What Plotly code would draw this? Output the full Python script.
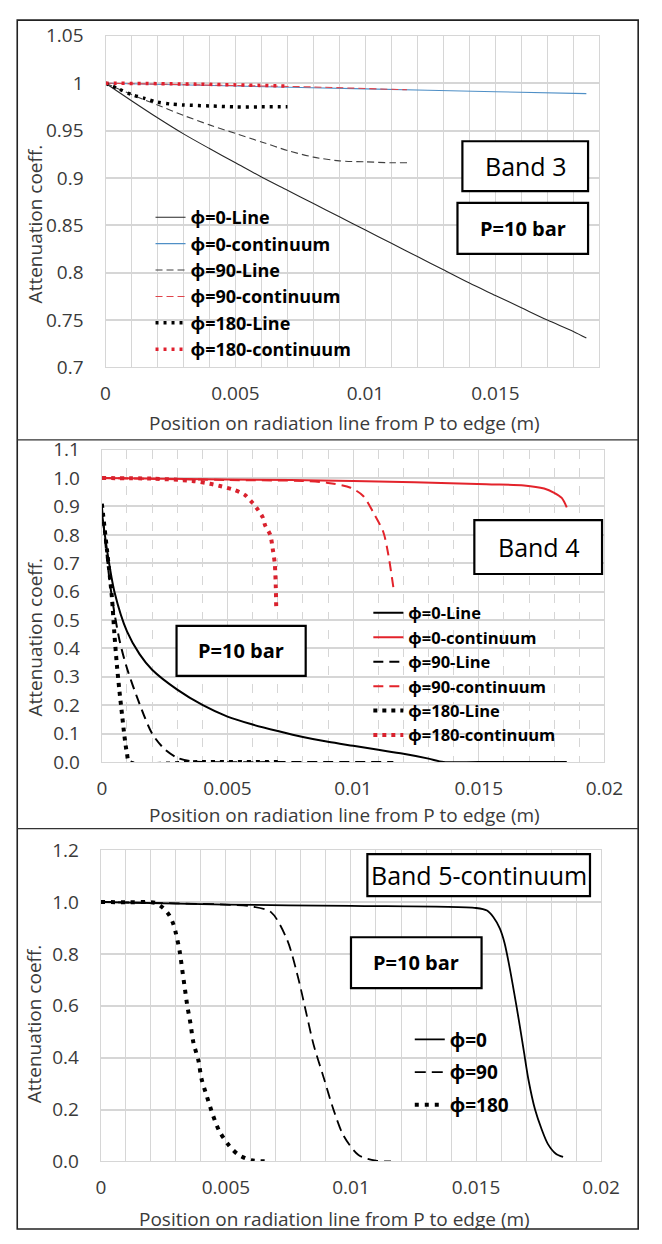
import plotly.graph_objects as go

W, H = 662, 1244

# ---------------- Band 3 (top panel) ----------------
b3_phi0_line_x = [0, 0.001, 0.002, 0.003, 0.004, 0.005, 0.006, 0.007, 0.008, 0.009, 0.010,
                  0.011, 0.012, 0.013, 0.014, 0.015, 0.016, 0.017, 0.018, 0.0185]
b3_phi0_line_y = [1.0, 0.9815, 0.9635, 0.9465, 0.931, 0.916, 0.901, 0.887, 0.873, 0.859, 0.845,
                  0.831, 0.817, 0.803, 0.789, 0.776, 0.763, 0.750, 0.738, 0.731]
b3_phi0_cont_x = [0, 0.005, 0.010, 0.015, 0.0185]
b3_phi0_cont_y = [1.0, 0.997, 0.994, 0.991, 0.989]
b3_phi90_line_x = [0, 0.001, 0.002, 0.003, 0.004, 0.005, 0.006, 0.007, 0.008, 0.009, 0.010, 0.011, 0.0116]
b3_phi90_line_y = [1.0, 0.988, 0.977, 0.966, 0.956, 0.947, 0.938, 0.929, 0.922, 0.918, 0.917, 0.916, 0.916]
b3_phi90_cont_x = [0, 0.004, 0.008, 0.0116]
b3_phi90_cont_y = [1.0, 0.998, 0.996, 0.993]
b3_phi180_line_x = [0, 0.0005, 0.001, 0.0015, 0.002, 0.0025, 0.003, 0.004, 0.005, 0.006, 0.007]
b3_phi180_line_y = [1.0, 0.994, 0.988, 0.984, 0.980, 0.978, 0.977, 0.976, 0.975, 0.975, 0.975]
b3_phi180_cont_x = [0, 0.0035, 0.007]
b3_phi180_cont_y = [1.0, 0.999, 0.997]

# ---------------- Band 4 (middle panel) ----------------
b4_phi0_line_x = [0, 0.0002, 0.0005, 0.001, 0.0015, 0.002, 0.003, 0.004, 0.005, 0.006, 0.007,
                  0.008, 0.009, 0.010, 0.011, 0.012, 0.013, 0.0136, 0.015, 0.0185]
b4_phi0_line_y = [0.88, 0.75, 0.60, 0.46, 0.38, 0.325, 0.255, 0.201, 0.16, 0.132, 0.109,
                  0.088, 0.071, 0.057, 0.043, 0.029, 0.012, 0.0, 0.0, 0.0]
b4_phi0_cont_x = [0, 0.005, 0.010, 0.0153, 0.0168, 0.0176, 0.018, 0.0183, 0.0185]
b4_phi0_cont_y = [1.0, 0.995, 0.99, 0.978, 0.974, 0.963, 0.948, 0.93, 0.897]
b4_phi90_line_x = [0, 0.0002, 0.0004, 0.0007, 0.001, 0.0015, 0.002, 0.0025, 0.003, 0.0035, 0.004, 0.008, 0.0116]
b4_phi90_line_y = [0.90, 0.72, 0.58, 0.43, 0.33, 0.205, 0.10, 0.045, 0.015, 0.003, 0.0, 0.0, 0.0]
b4_phi90_cont_x = [0, 0.005, 0.008, 0.009, 0.0099, 0.0104, 0.0108, 0.0112, 0.0114, 0.0116]
b4_phi90_cont_y = [1.0, 0.993, 0.99, 0.983, 0.966, 0.937, 0.879, 0.81, 0.73, 0.615]
b4_phi180_line_x = [0, 0.0002, 0.0004, 0.0005, 0.0006, 0.0007, 0.0008, 0.0009, 0.001, 0.0011, 0.004, 0.007]
b4_phi180_line_y = [0.91, 0.75, 0.58, 0.45, 0.34, 0.25, 0.17, 0.09, 0.03, 0.0, 0.0, 0.0]
b4_phi180_cont_x = [0, 0.002, 0.0036, 0.0043, 0.0047, 0.0053, 0.0057, 0.006, 0.0062, 0.0064,
                    0.0065, 0.0067, 0.0068, 0.00688, 0.00692, 0.00694]
b4_phi180_cont_y = [1.0, 0.998, 0.99, 0.98, 0.972, 0.957, 0.94, 0.912, 0.89, 0.862,
                    0.833, 0.80, 0.75, 0.70, 0.62, 0.535]

# ---------------- Band 5-continuum (bottom panel) ----------------
b5_phi0_x = [0, 0.005, 0.010, 0.015, 0.01544, 0.01569, 0.01595, 0.01614, 0.01633, 0.01652,
             0.01672, 0.01691, 0.0171, 0.01736, 0.01762, 0.01787, 0.01819, 0.01848]
b5_phi0_y = [1.0, 0.99, 0.985, 0.977, 0.967, 0.942, 0.898, 0.842, 0.754, 0.653,
             0.54, 0.426, 0.313, 0.20, 0.125, 0.068, 0.03, 0.018]
b5_phi90_x = [0, 0.003, 0.005, 0.0059, 0.0068, 0.00745, 0.0079, 0.0082, 0.0085,
              0.0089, 0.0093, 0.0097, 0.0103, 0.011, 0.0116]
b5_phi90_y = [1.0, 0.995, 0.99, 0.985, 0.961, 0.854, 0.703, 0.577, 0.452,
              0.326, 0.20, 0.10, 0.025, 0.003, 0.0]
b5_phi180_x = [0, 0.001, 0.00217, 0.00249, 0.00274, 0.0029, 0.003, 0.00315, 0.00325, 0.00335,
               0.00345, 0.00358, 0.0037, 0.0039, 0.00402, 0.00424, 0.00447, 0.00473, 0.00512,
               0.0055, 0.00601, 0.00678]
b5_phi180_y = [1.0, 0.999, 0.997, 0.977, 0.948, 0.914, 0.879, 0.81, 0.741, 0.672,
               0.603, 0.533, 0.458, 0.389, 0.32, 0.25, 0.181, 0.118, 0.062,
               0.026, 0.005, 0.0]

# ---------------- helpers ----------------
FONT = "'Open Sans', 'Noto Sans', 'DejaVu Sans', sans-serif"
TXT = "#3a3a3a"
GRID = "#d6d6d6"
RED = "#e3232b"
BLUE = "#4f8fc6"


def fx(px):
    return px / W


def fy(py):
    return 1 - py / H


fig = go.Figure()


def add(x, y, name, color, width, dash, xa, ya, legend, group=None):
    fig.add_trace(go.Scatter(
        x=x, y=y, name=name, mode="lines",
        line=dict(color=color, width=width, dash=dash, shape="spline", smoothing=0.8),
        xaxis=xa, yaxis=ya, legend=legend, legendgroup=group,
        hoverinfo="skip"))


# Band 3
add(b3_phi0_line_x, b3_phi0_line_y, "ϕ=0-Line", "#262626", 1.1, "solid", "x", "y", "legend")
add(b3_phi0_cont_x, b3_phi0_cont_y, "ϕ=0-continuum", BLUE, 1.1, "solid", "x", "y", "legend")
add(b3_phi90_line_x, b3_phi90_line_y, "ϕ=90-Line", "#404040", 1.1, "7px,4px", "x", "y", "legend")
add(b3_phi90_cont_x, b3_phi90_cont_y, "ϕ=90-continuum", "#e0434a", 1.1, "7px,4px", "x", "y", "legend")
add(b3_phi180_line_x, b3_phi180_line_y, "ϕ=180-Line", "#000000", 3.5, "3px,5px", "x", "y", "legend")
add(b3_phi180_cont_x, b3_phi180_cont_y, "ϕ=180-continuum", "#e0202e", 3.5, "3px,5px", "x", "y", "legend")

# Band 4
add(b4_phi0_line_x, b4_phi0_line_y, "ϕ=0-Line", "#000000", 2, "solid", "x2", "y2", "legend2")
add(b4_phi0_cont_x, b4_phi0_cont_y, "ϕ=0-continuum", RED, 2, "solid", "x2", "y2", "legend2")
add(b4_phi90_line_x, b4_phi90_line_y, "ϕ=90-Line", "#000000", 2, "10px,6px", "x2", "y2", "legend2")
add(b4_phi90_cont_x, b4_phi90_cont_y, "ϕ=90-continuum", RED, 2, "10px,6px", "x2", "y2", "legend2")
add(b4_phi180_line_x, b4_phi180_line_y, "ϕ=180-Line", "#000000", 4, "4px,5px", "x2", "y2", "legend2")
add(b4_phi180_cont_x, b4_phi180_cont_y, "ϕ=180-continuum", "#d9222e", 4, "4px,5px", "x2", "y2", "legend2")

# Band 5
add(b5_phi0_x, b5_phi0_y, "ϕ=0", "#000000", 1.8, "solid", "x3", "y3", "legend3", "g0")
add(b5_phi90_x, b5_phi90_y, "ϕ=90", "#000000", 1.8, "11px,6px", "x3", "y3", "legend3", "g1")
add(b5_phi180_x, b5_phi180_y, "ϕ=180", "#000000", 4, "4px,6px", "x3", "y3", "legend3", "g2")

tickfont = dict(family=FONT, size=19, color=TXT)


def xaxis(dom, rng, dash_minor):
    return dict(domain=[fx(dom[0]), fx(dom[1])], range=rng, tick0=0, dtick=0.005,
                showgrid=True, gridcolor=GRID, gridwidth=1.3,
                minor=dict(dtick=0.001, showgrid=True, gridcolor=GRID, gridwidth=1.1,
                           griddash="dash" if dash_minor else "solid"),
                showline=True, linecolor=GRID, linewidth=1.3, mirror=True,
                zeroline=False, ticks="", tickfont=tickfont, ticklabelstandoff=9,
                fixedrange=True)


def yaxis(dom, rng, dtick, fmt, anchor):
    return dict(domain=[fy(dom[1]), fy(dom[0])], range=rng, dtick=dtick, tick0=0,
                tickformat=fmt, showgrid=True, gridcolor=GRID, gridwidth=1.8,
                showline=True, linecolor=GRID, linewidth=1.3, mirror=True,
                zeroline=False, ticks="", tickfont=tickfont, ticklabelstandoff=17,
                anchor=anchor, fixedrange=True)


fig.update_layout(
    width=W, height=H, margin=dict(l=0, r=0, t=0, b=0),
    paper_bgcolor="white", plot_bgcolor="white",
    font=dict(family=FONT, color=TXT),
    xaxis=dict(xaxis((104.3, 616.7), [0, 0.019], False), anchor="y"),
    yaxis=yaxis((23.3, 362), [0.7, 1.05], 0.05, "", "x"),
    xaxis2=dict(xaxis((100.5, 622), [0, 0.02], True), anchor="y2"),
    yaxis2=yaxis((446, 765), [0, 1.1], 0.1, ".1f", "x2"),
    xaxis3=dict(xaxis((99.5, 618.5), [0, 0.02], False), anchor="y3"),
    yaxis3=yaxis((855, 1173), [0, 1.2], 0.2, ".1f", "x3"),
    legend=dict(x=fx(151), y=fy(190), xanchor="left", yanchor="top",
                bgcolor="rgba(0,0,0,0)", font=dict(family=FONT, size=18, color="#000000",
                                                   weight="bold")),
    legend2=dict(x=fx(377), y=fy(595), xanchor="left", yanchor="top",
                 bgcolor="rgba(0,0,0,0)", font=dict(family=FONT, size=16.5, color="#000000",
                                                    weight="bold")),
    legend3=dict(x=fx(420), y=fy(1029), xanchor="left", yanchor="top", tracegroupgap=5,
                 bgcolor="rgba(0,0,0,0)", font=dict(family=FONT, size=19, color="#000000",
                                                    weight="bold")),
    showlegend=True,
)

shapes = []
annotations = []

# outer frame and panel dividers
shapes.append(dict(type="rect", xref="paper", yref="paper", x0=fx(12.7), x1=fx(657),
                   y0=fy(1242), y1=fy(7.3), line=dict(color="#222222", width=1.6)))
for yy in (436, 833):
    shapes.append(dict(type="line", xref="paper", yref="paper", x0=fx(12.7), x1=fx(657),
                       y0=fy(yy), y1=fy(yy), line=dict(color="#333333", width=1.4)))


def box(x0, x1, y0, y1, text, size, bold):
    shapes.append(dict(type="rect", xref="paper", yref="paper", x0=fx(x0), x1=fx(x1),
                       y0=fy(y1), y1=fy(y0), fillcolor="white",
                       line=dict(color="#000000", width=2.2), layer="above"))
    annotations.append(dict(xref="paper", yref="paper", x=fx((x0 + x1) / 2),
                            y=fy((y0 + y1) / 2), xanchor="center", yanchor="middle",
                            text=f"<b>{text}</b>" if bold else text, showarrow=False,
                            font=dict(family=FONT, size=size, color="#000000")))


box(474.6, 605, 131, 182, "Band 3", 25, False)
box(469.5, 605, 194, 246, "P=10 bar", 20, True)
box(487, 619.5, 518, 573, "Band 4", 25, False)
box(178, 312, 626, 677, "P=10 bar", 20, True)
box(376, 607, 859, 902, "Band 5-continuum", 25, False)
box(359, 494.5, 944, 996, "P=10 bar", 20, True)

xtitle = "Position on radiation line from P to edge (m)"
for cx, cy in ((352, 419), (352, 819), (342, 1232)):
    annotations.append(dict(xref="paper", yref="paper", x=fx(cx), y=fy(cy),
                            xanchor="center", yanchor="middle", text=xtitle, showarrow=False,
                            font=dict(family=FONT, size=19, color=TXT)))
for cy in (215, 637, 1032):
    annotations.append(dict(xref="paper", yref="paper", x=fx(31), y=fy(cy),
                            xanchor="center", yanchor="middle", text="Attenuation coeff.",
                            textangle=-90, showarrow=False,
                            font=dict(family=FONT, size=19, color=TXT)))

fig.update_layout(shapes=shapes, annotations=annotations)

fig.write_html("out.html", config={"displayModeBar": False})
